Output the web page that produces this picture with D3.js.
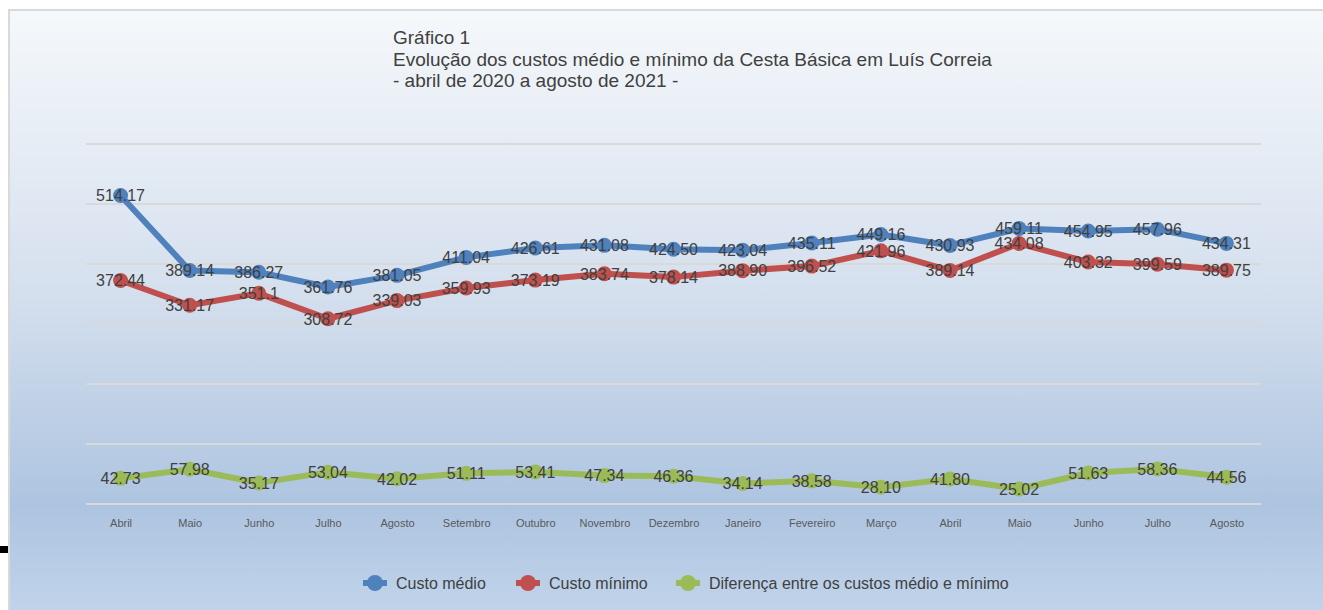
<!DOCTYPE html>
<html>
<head>
    <meta charset="utf-8">
    <title>Cesta Básica - Luís Correia</title>
    <script src="https://d3js.org/d3.v7.min.js"></script>
    <style>
        html, body { margin: 0; padding: 0; background: #fff; overflow: hidden; }
        text { font-family: "Liberation Sans", Arial, sans-serif; }
    </style>
</head>
<body>
    <svg id="chart"></svg>
    <script>
        // data
        const months = ["Abril", "Maio", "Junho", "Julho", "Agosto", "Setembro", "Outubro", "Novembro",
            "Dezembro", "Janeiro", "Fevereiro", "Março", "Abril", "Maio", "Junho", "Julho", "Agosto"];
        const custoMedio = ["514.17", "389.14", "386.27", "361.76", "381.05", "411.04", "426.61", "431.08",
            "424.50", "423.04", "435.11", "449.16", "430.93", "459.11", "454.95", "457.96", "434.31"];
        const custoMinimo = ["372.44", "331.17", "351.1", "308.72", "339.03", "359.93", "373.19", "383.74",
            "378.14", "388.90", "396.52", "421.96", "389.14", "434.08", "403.32", "399.59", "389.75"];
        const diferenca = ["42.73", "57.98", "35.17", "53.04", "42.02", "51.11", "53.41", "47.34",
            "46.36", "34.14", "38.58", "28.10", "41.80", "25.02", "51.63", "58.36", "44.56"];
        const gridTicks = [0, 100, 200, 300, 400, 500, 600];

        const seriesNames = ["Custo médio", "Custo mínimo", "Diferença entre os custos médio e mínimo"];
        const seriesColors = ["#4f81bd", "#c0504d", "#9bbb59"];
        const titleLines = ["Gráfico 1",
            "Evolução dos custos médio e mínimo da Cesta Básica em Luís Correia",
            "- abril de 2020 a agosto de 2021 -"];

        const width = 1323, height = 610;
        const svg = d3.select("#chart").attr("width", width).attr("height", height);

        // background gradient panel
        const grad = svg.append("defs").append("linearGradient")
            .attr("id", "bg").attr("x1", 0).attr("y1", 0).attr("x2", 0).attr("y2", 1);
        grad.append("stop").attr("offset", "0%").attr("stop-color", "#f5f8fb");
        grad.append("stop").attr("offset", "45%").attr("stop-color", "#d5e0ee");
        grad.append("stop").attr("offset", "80%").attr("stop-color", "#adc4e0");
        grad.append("stop").attr("offset", "100%").attr("stop-color", "#c4d6ec");

        svg.append("rect")
            .attr("x", 9).attr("y", 10).attr("width", 1330).attr("height", 620)
            .attr("fill", "url(#bg)")
            .attr("stroke", "#d9d9d9").attr("stroke-width", 2);

        // little black mark on the left edge
        svg.append("rect").attr("x", 0).attr("y", 546).attr("width", 8).attr("height", 7).attr("fill", "#000");

        // scales
        const x = d3.scalePoint()
            .domain(d3.range(months.length))
            .range([86, 1261])
            .padding(0.5);

        const y = d3.scaleLinear()
            .domain([0, 600])
            .range([504, 144]);

        // gridlines
        svg.append("g").selectAll("line")
            .data(gridTicks)
            .join("line")
            .attr("x1", 86).attr("x2", 1261)
            .attr("y1", d => y(d)).attr("y2", d => y(d))
            .attr("stroke", "#d9d9d9").attr("stroke-width", 2);

        // x axis labels
        const xAxis = svg.append("g")
            .attr("transform", "translate(0,504)")
            .call(d3.axisBottom(x).tickSize(0).tickPadding(15).tickFormat(i => months[i]));
        xAxis.select(".domain").remove();
        xAxis.selectAll("text")
            .attr("fill", "#595959")
            .style("font-size", "11px")
            .style("font-family", "'Liberation Sans', Arial, sans-serif");

        // series
        const allSeries = [custoMedio, custoMinimo, diferenca];
        const line = d3.line().x((d, i) => x(i)).y(d => y(+d));

        allSeries.forEach((vals, s) => {
            const g = svg.append("g");
            g.append("path")
                .datum(vals)
                .attr("d", line)
                .attr("fill", "none")
                .attr("stroke", seriesColors[s])
                .attr("stroke-width", 6)
                .attr("stroke-linejoin", "round");
            g.selectAll("circle")
                .data(vals)
                .join("circle")
                .attr("cx", (d, i) => x(i))
                .attr("cy", d => y(+d))
                .attr("r", 7.5)
                .attr("fill", seriesColors[s]);
        });

        // data labels, on top of everything
        allSeries.forEach(vals => {
            svg.append("g").selectAll("text")
                .data(vals)
                .join("text")
                .attr("x", (d, i) => x(i))
                .attr("y", d => y(+d))
                .attr("dy", "0.36em")
                .attr("text-anchor", "middle")
                .attr("fill", "#404040")
                .style("font-size", "16px")
                .text(d => d);
        });

        // title
        svg.append("g").selectAll("text")
            .data(titleLines)
            .join("text")
            .attr("x", 393)
            .attr("y", (d, i) => 44 + i * 21.5)
            .attr("fill", "#404040")
            .style("font-size", "19px")
            .text(d => d);

        // legend
        const legendX = [375, 528, 688];
        const legend = svg.append("g").selectAll("g")
            .data(seriesNames)
            .join("g")
            .attr("transform", (d, i) => `translate(${legendX[i]},583)`);
        legend.append("line")
            .attr("x1", -12).attr("x2", 12)
            .attr("stroke", (d, i) => seriesColors[i])
            .attr("stroke-width", 6);
        legend.append("circle")
            .attr("r", 8)
            .attr("fill", (d, i) => seriesColors[i]);
        legend.append("text")
            .attr("x", 21)
            .attr("dy", "0.36em")
            .attr("fill", "#404040")
            .style("font-size", "16px")
            .text(d => d);
    </script>
</body>
</html>
